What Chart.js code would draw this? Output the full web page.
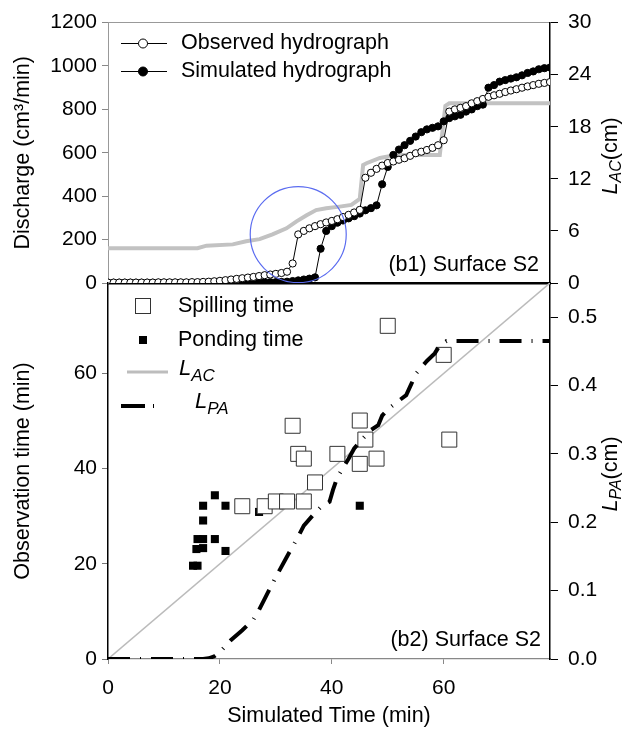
<!DOCTYPE html>
<html>
<head>
<meta charset="utf-8">
<script src="https://cdn.jsdelivr.net/npm/chart.js@4.4.1/dist/chart.umd.min.js"></script>
<style>
  html, body { margin: 0; padding: 0; background: #fff; }
  #wrap { position: relative; width: 628px; height: 729px; }
  #wrap canvas { position: absolute; left: 0; top: 0; }
</style>
</head>
<body>
<div id="wrap">
  <canvas id="hydro" width="628" height="729"></canvas>
  <canvas id="timing" width="628" height="729"></canvas>
</div>
<script>
// ---- panel b1: hydrographs (minutes vs cm3/min) ----
const minutes = [0, 1, 2, 3, 4, 5, 6, 7, 8, 9, 10, 11, 12, 13, 14, 15, 16, 17, 18, 19,
  20, 21, 22, 23, 24, 25, 26, 27, 28, 29, 30, 31, 32, 33, 34, 35, 36, 37, 38, 39,
  40, 41, 42, 43, 44, 45, 46, 47, 48, 49, 50, 51, 52, 53, 54, 55, 56, 57, 58, 59,
  60, 61, 62, 63, 64, 65, 66, 67, 68, 69, 70, 71, 72, 73, 74, 75, 76, 77, 78, 79];
const observedQ = [2, 2, 2, 2, 2, 2, 2, 2, 2, 3, 3, 3, 3, 3, 3, 4, 4, 5, 6, 8,
  10, 13, 16, 19, 22, 25, 28, 32, 36, 39, 42, 46, 52, 90, 224, 240, 252, 262, 271, 279,
  286, 294, 304, 314, 325, 337, 485, 508, 526, 541, 553, 560, 568, 575, 586, 598, 605, 613, 623, 635,
  658, 790, 800, 807, 815, 828, 838, 848, 858, 865, 872, 880, 887, 893, 900, 906, 912, 918, 922, 926];
const simulatedQ = [1, 1, 1, 1, 1, 1, 1, 1, 1, 1, 1, 1, 1, 1, 1, 1, 1, 1, 1, 1,
  1, 1, 1, 2, 2, 2, 2, 3, 3, 4, 4, 5, 6, 9, 12, 16, 20, 26, 158, 240,
  262, 278, 288, 298, 308, 320, 335, 345, 358, 455, 535, 590, 615, 635, 655, 675, 695, 708, 715, 722,
  745, 760, 768, 775, 790, 800, 815, 822, 900, 912, 928, 935, 942, 948, 957, 968, 975, 985, 990, 993];
// L_AC (cm), right axis of b1
const lacTime = [0, 16, 17.6, 22.3, 24.7, 27.1, 29.4, 31.9, 33.7, 35.5, 37.2, 39, 41.4, 43.5,
  45, 45.6, 46.2, 48.6, 51.5, 59.3, 60.3, 61, 79];
const lacCm = [4.0, 4.0, 4.3, 4.45, 4.8, 5.05, 5.6, 6.3, 7.1, 7.8, 8.4, 8.6, 8.8, 9.0,
  9.7, 13.6, 13.8, 14.4, 14.75, 14.75, 20.4, 20.7, 20.7];
const ringCenter = [34, 223];

// ---- panel b2: spilling / ponding times ----
const spillSimTime = [24, 28, 30, 32, 35, 37, 33, 34, 35, 41, 45, 46, 45, 48, 60, 61, 50];
const spillObsTime = [32.1, 32.1, 33.1, 33.1, 33.1, 37.1, 49.0, 43.1, 42.1, 43.1, 50.1, 46.1, 41.0, 42.1, 63.9, 46.1, 70.0];
const pondSimTime = [19.1, 17, 21, 17, 16, 17, 19.1, 15.8, 17, 21, 15.2, 16, 27, 45];
const pondObsTime = [34.4, 32.2, 32.2, 29.1, 25.2, 25.2, 25.2, 23.1, 23.3, 22.7, 19.6, 19.6, 30.9, 32.2];
const acLineTime = [0, 79];
const acLineObs = [0, 79];
const lpaTime = [0, 17, 18, 19, 20, 22, 24, 26, 27, 28, 30, 32, 34, 35, 36.6, 38, 39.6, 40.2, 41, 43,
  44, 45.6, 47, 48.3, 49, 50, 52, 53.3, 54.2, 55.1, 57, 58.4, 59.3, 60.5, 79];
const lpaCm = [0, 0, 0.001, 0.004, 0.01, 0.028, 0.042, 0.058, 0.072, 0.088, 0.12, 0.15, 0.179, 0.195, 0.21, 0.222, 0.23, 0.247, 0.266, 0.293,
  0.308, 0.323, 0.335, 0.342, 0.356, 0.365, 0.378, 0.386, 0.402, 0.418, 0.436, 0.447, 0.459, 0.465, 0.465];

// ---- ticks ----
const timeTicks = [0, 20, 40, 60];
const dischargeTicks = [0, 200, 400, 600, 800, 1000, 1200];
const lacTicks = [0, 6, 12, 18, 24, 30];
const obsTimeTicks = [0, 20, 40, 60];
const lpaTicks = [0, 0.1, 0.2, 0.3, 0.4, 0.5];

const FONT = "'Liberation Sans', Arial, sans-serif";
const TXT = 21.5;
Chart.defaults.font.family = FONT;
Chart.defaults.font.size = 21;
Chart.defaults.color = "#000";

const pts = (xs, ys) => xs.map((x, i) => ({ x: x, y: ys[i] }));
const setTicks = (vals) => (s) => { s.ticks = vals.map((v) => ({ value: v })); };
const plain = (v) => String(v);

// text with italic / subscript pieces, optionally rotated
function drawRich(ctx, parts, x, y, o) {
  const fontOf = (p) => (p.italic ? "italic " : "") + (p.sub ? o.subSize : o.size) + "px " + FONT;
  let total = 0;
  parts.forEach((p) => { ctx.font = fontOf(p); p.w = ctx.measureText(p.text).width; total += p.w; });
  ctx.save();
  ctx.translate(x, y);
  if (o.rotate) ctx.rotate(o.rotate);
  let cx = o.align === "center" ? -total / 2 : 0;
  ctx.textBaseline = "middle";
  ctx.textAlign = "left";
  ctx.fillStyle = "#000";
  parts.forEach((p) => {
    ctx.font = fontOf(p);
    ctx.fillText(p.text, cx, p.sub ? o.subShift : 0);
    cx += p.w;
  });
  ctx.restore();
}

const hydroNotes = {
  id: "hydroNotes",
  afterDraw(chart) {
    const ctx = chart.ctx;
    const area = chart.chartArea;
    ctx.save();
    // legend
    [[43, "#fff", "Observed hydrograph"], [71, "#000", "Simulated hydrograph"]].forEach(([y, fill, txt]) => {
      ctx.strokeStyle = "#000";
      ctx.lineWidth = 1;
      ctx.beginPath(); ctx.moveTo(121, y + 0.5); ctx.lineTo(167, y + 0.5); ctx.stroke();
      ctx.beginPath(); ctx.arc(143, y + 0.5, 4.5, 0, Math.PI * 2);
      ctx.fillStyle = fill; ctx.fill(); ctx.stroke();
      ctx.fillStyle = "#000";
      ctx.font = TXT + "px " + FONT;
      ctx.textBaseline = "middle";
      ctx.textAlign = "left";
      ctx.fillText(txt, 181, y);
    });
    ctx.textAlign = "right";
    ctx.fillText("(b1) Surface S2", 539, 265);
    ctx.restore();
    drawRich(ctx, [{ text: "L", italic: true }, { text: "AC", italic: true, sub: true }, { text: "(cm)" }],
      611, (area.top + area.bottom) / 2 + 3, { size: TXT, subSize: 16, subShift: 6, rotate: -Math.PI / 2, align: "center" });
  }
};

const timingNotes = {
  id: "timingNotes",
  afterDraw(chart) {
    const ctx = chart.ctx;
    const area = chart.chartArea;
    ctx.save();
    ctx.font = TXT + "px " + FONT;
    ctx.textBaseline = "middle";
    ctx.textAlign = "left";
    ctx.fillStyle = "#000";
    ctx.strokeStyle = "#333";
    ctx.lineWidth = 1;
    ctx.strokeRect(135.5, 298.5, 15, 15);
    ctx.fillText("Spilling time", 178, 306);
    ctx.fillRect(139, 336, 8, 8);
    ctx.fillText("Ponding time", 178, 340);
    ctx.strokeStyle = "#bdbdbd";
    ctx.lineWidth = 3;
    ctx.beginPath(); ctx.moveTo(127, 372); ctx.lineTo(168, 372); ctx.stroke();
    ctx.strokeStyle = "#000";
    ctx.lineWidth = 4;
    ctx.beginPath(); ctx.moveTo(121, 406); ctx.lineTo(145, 406); ctx.stroke();
    ctx.beginPath(); ctx.moveTo(153, 406); ctx.lineTo(154, 406); ctx.stroke();
    ctx.textAlign = "right";
    ctx.fillText("(b2) Surface S2", 541, 640);
    ctx.restore();
    drawRich(ctx, [{ text: "L", italic: true }, { text: "AC", italic: true, sub: true }],
      179, 369, { size: 22, subSize: 17, subShift: 7 });
    drawRich(ctx, [{ text: "L", italic: true }, { text: "PA", italic: true, sub: true }],
      195, 402, { size: 22, subSize: 17, subShift: 7 });
    drawRich(ctx, [{ text: "L", italic: true }, { text: "PA", italic: true, sub: true }, { text: "(cm)" }],
      611, (area.top + area.bottom) / 2 + 3, { size: TXT, subSize: 16, subShift: 6, rotate: -Math.PI / 2, align: "center" });
  }
};

const commonOpts = {
  responsive: false,
  animation: false,
  events: [],
};

new Chart(document.getElementById("hydro"), {
  type: "scatter",
  data: {
    datasets: [
      {
        label: "ring",
        data: [{ x: ringCenter[0], y: ringCenter[1] }],
        pointRadius: 48,
        pointBackgroundColor: "rgba(0,0,0,0)",
        pointBorderColor: "#5b6cf0",
        pointBorderWidth: 1.2,
        order: 0,
      },
      {
        label: "Observed hydrograph",
        data: pts(minutes, observedQ),
        showLine: true,
        borderColor: "#000",
        borderWidth: 1,
        pointRadius: 3.6,
        pointBackgroundColor: "#fff",
        pointBorderColor: "#000",
        pointBorderWidth: 1,
        order: 1,
      },
      {
        label: "Simulated hydrograph",
        data: pts(minutes, simulatedQ),
        showLine: true,
        borderColor: "#000",
        borderWidth: 1,
        pointRadius: 3.6,
        pointBackgroundColor: "#000",
        pointBorderColor: "#000",
        pointBorderWidth: 1,
        order: 2,
      },
      {
        label: "LAC",
        data: pts(lacTime, lacCm),
        yAxisID: "yR",
        showLine: true,
        borderColor: "#c2c2c2",
        borderWidth: 4,
        pointRadius: 0,
        order: 3,
      },
    ],
  },
  options: {
    ...commonOpts,
    layout: { autoPadding: false, padding: { top: 16, bottom: 446, left: 0, right: 0 } },
    scales: {
      x: {
        type: "linear", min: 0, max: 79, position: "bottom",
        ticks: { display: false },
        grid: { display: false, drawTicks: false },
        border: { color: "#000", width: 2.5 },
        afterFit: (s) => { s.height = 0; },
      },
      xTop: {
        type: "linear", min: 0, max: 79, position: "top",
        ticks: { display: false },
        grid: { display: false, drawTicks: false },
        border: { color: "#999", width: 1 },
        afterFit: (s) => { s.height = 0; },
      },
      y: {
        min: 0, max: 1200, position: "left",
        afterBuildTicks: setTicks(dischargeTicks),
        ticks: { padding: 5, callback: plain },
        grid: { drawOnChartArea: false, tickLength: 6, color: "#888" },
        border: { color: "#999", width: 1 },
        title: { display: true, text: "Discharge (cm³/min)", font: { size: TXT }, padding: { top: 10, bottom: 0 } },
        afterFit: (s) => { s.width = 108; },
      },
      yR: {
        min: 0, max: 30, position: "right",
        afterBuildTicks: setTicks(lacTicks),
        ticks: { padding: 10, callback: plain },
        grid: { drawOnChartArea: false, tickLength: 8, color: "#000" },
        border: { color: "#000", width: 1.5 },
        afterFit: (s) => { s.width = 78; },
      },
    },
    plugins: { legend: { display: false }, tooltip: { enabled: false } },
  },
  plugins: [hydroNotes],
});

new Chart(document.getElementById("timing"), {
  type: "scatter",
  data: {
    datasets: [
      {
        label: "LPA",
        data: pts(lpaTime, lpaCm),
        yAxisID: "yR",
        showLine: true,
        borderColor: "#000",
        borderWidth: 4,
        borderDash: [22, 10, 1, 10],
        pointRadius: 0,
        order: 0,
      },
      {
        label: "Spilling time",
        data: pts(spillSimTime, spillObsTime),
        pointStyle: "rect",
        pointRadius: 10.6,
        pointBackgroundColor: "#fff",
        pointBorderColor: "#333",
        pointBorderWidth: 1,
        order: 1,
      },
      {
        label: "Ponding time",
        data: pts(pondSimTime, pondObsTime),
        pointStyle: "rect",
        pointRadius: 5.7,
        pointBackgroundColor: "#000",
        pointBorderColor: "#000",
        pointBorderWidth: 0,
        order: 2,
      },
      {
        label: "LAC",
        data: pts(acLineTime, acLineObs),
        showLine: true,
        borderColor: "#bbb",
        borderWidth: 1.5,
        pointRadius: 0,
        order: 3,
      },
    ],
  },
  options: {
    ...commonOpts,
    layout: { autoPadding: false, padding: { top: 283, bottom: 0, left: 0, right: 0 } },
    scales: {
      x: {
        type: "linear", min: 0, max: 79, position: "bottom",
        afterBuildTicks: setTicks(timeTicks),
        ticks: { padding: 12, callback: plain },
        grid: { drawOnChartArea: false, tickLength: 5, color: "#888" },
        border: { color: "#888", width: 1.3 },
        title: { display: true, text: "Simulated Time (min)", font: { size: TXT }, padding: { top: 0, bottom: 0 } },
        afterFit: (s) => { s.height = 70; },
      },
      y: {
        min: 0, max: 79, position: "left",
        afterBuildTicks: setTicks(obsTimeTicks),
        ticks: { padding: 5, callback: plain },
        grid: { drawOnChartArea: false, tickLength: 6, color: "#777" },
        border: { color: "#000", width: 1.5 },
        title: { display: true, text: "Observation time (min)", font: { size: TXT }, padding: { top: 10, bottom: 0 } },
        afterFit: (s) => { s.width = 108; },
      },
      yR: {
        min: 0, max: 0.55, position: "right",
        afterBuildTicks: setTicks(lpaTicks),
        ticks: { padding: 10, callback: (v) => v.toFixed(1) },
        grid: { drawOnChartArea: false, tickLength: 8, color: "#000" },
        border: { color: "#000", width: 1.5 },
        afterFit: (s) => { s.width = 78; },
      },
    },
    plugins: { legend: { display: false }, tooltip: { enabled: false } },
  },
  plugins: [timingNotes],
});
</script>
</body>
</html>
